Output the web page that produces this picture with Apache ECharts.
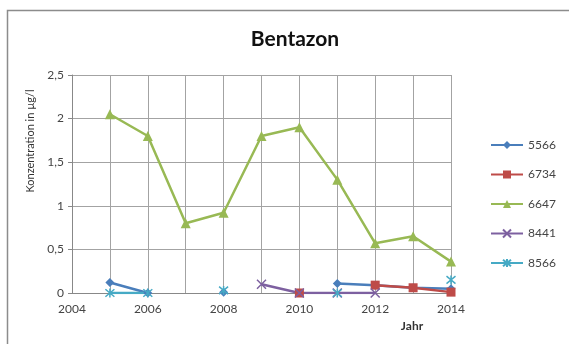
<!DOCTYPE html>
<html>
<head>
<meta charset="utf-8">
<script src="https://cdn.jsdelivr.net/npm/echarts@6/dist/echarts.min.js"></script>
<style>
  html, body { margin: 0; padding: 0; background: #fff; }
  #chart { width: 569px; height: 344px; }
</style>
</head>
<body>
<div id="chart"></div>
<script>
// Messjahre und Konzentrationen je Messstelle (µg/l), Lücken = keine Messung
const years = [2005, 2006, 2007, 2008, 2009, 2010, 2011, 2012, 2013, 2014];
const s5566 = [0.12, 0.0, null, 0.01, null, null, 0.11, 0.09, 0.06, 0.05];
const s6734 = [null, null, null, null, null, 0.0, null, 0.09, 0.06, 0.01];
const s6647 = [2.05, 1.8, 0.8, 0.92, 1.8, 1.9, 1.3, 0.57, 0.65, 0.36];
const s8441 = [null, null, null, null, 0.1, 0.0, 0.0, 0.0, null, null];
const s8566 = [0.0, 0.0, null, 0.03, null, null, 0.0, null, null, 0.15];
const seriesNames = ['5566', '6734', '6647', '8441', '8566'];
const xTickLabels = ['2004', '2006', '2008', '2010', '2012', '2014'];
const yTickLabels = ['0', '0,5', '1', '1,5', '2', '2,5'];

const colors = ['#4A7EBB', '#BE4B48', '#98B954', '#7D60A0', '#46AAC5'];
const symbols = [
  'diamond',
  'rect',
  'triangle',
  'path://M0,0L10,10M10,0L0,10',
  'path://M0,0L10,10M10,0L0,10M5,-1L5,11'
];
const values = [s5566, s6734, s6647, s8441, s8566];

const font = 'Lato, "Open Sans", sans-serif';
const gridColor = '#a3a3a3';

const chart = echarts.init(document.getElementById('chart'));
chart.setOption({
  backgroundColor: '#ffffff',
  animation: false,
  title: {
    text: 'Bentazon',
    left: 290,
    textAlign: 'center',
    top: 24,
    textStyle: { fontFamily: font, fontSize: 21, fontWeight: 'bold', color: '#111' }
  },
  graphic: [
    {
      type: 'rect', left: 5, top: 8,
      shape: { width: 620, height: 400 },
      style: { fill: 'none', stroke: '#8c8c8c', lineWidth: 1.5 }
    },
    {
      type: 'text', x: 30, y: 141, rotation: Math.PI / 2,
      style: {
        text: 'Konzentration in µg/l', fontFamily: font, fontSize: 11,
        fill: '#333', align: 'center', verticalAlign: 'middle'
      }
    },
    {
      type: 'text', x: 412, y: 326,
      style: {
        text: 'Jahr', fontFamily: font, fontSize: 12, fontWeight: 'bold',
        fill: '#333', align: 'center', verticalAlign: 'middle'
      }
    }
  ],
  legend: {
    orient: 'vertical',
    left: 485,
    top: 134,
    itemGap: 17.5,
    itemWidth: 32,
    itemHeight: 10,
    textStyle: { fontFamily: font, fontSize: 12, color: '#444' },
    data: seriesNames
  },
  grid: { left: 72, right: 118, top: 75, bottom: 51 },
  xAxis: {
    type: 'value',
    min: 2004, max: 2014, interval: 1,
    axisLine: { lineStyle: { color: '#888' } },
    axisTick: { show: false },
    axisLabel: {
      fontFamily: font, fontSize: 12, color: '#444', margin: 10,
      formatter: v => xTickLabels.includes(String(v)) ? String(v) : ''
    },
    splitLine: { show: true, lineStyle: { color: gridColor, width: 1 } }
  },
  yAxis: {
    type: 'value',
    min: 0, max: 2.5, interval: 0.5,
    axisLine: { show: true, lineStyle: { color: '#888' } },
    axisTick: { show: true, length: 4, lineStyle: { color: '#888' } },
    axisLabel: {
      fontFamily: font, fontSize: 12, color: '#444', margin: 8,
      formatter: v => yTickLabels[Math.round(v / 0.5)]
    },
    splitLine: { show: true, lineStyle: { color: gridColor, width: 1 } }
  },
  series: seriesNames.map((name, i) => ({
    name,
    type: 'line',
    data: years.map((y, k) => [y, values[i][k]]),
    connectNulls: false,
    symbol: symbols[i],
    symbolSize: i === 2 ? 10 : 9,
    showSymbol: true,
    lineStyle: { color: colors[i], width: 2.5 },
    itemStyle: { color: colors[i], borderColor: colors[i], borderWidth: i >= 3 ? 1.5 : 0 },
    z: i === 2 ? 2 : 3
  }))
});
</script>
</body>
</html>
